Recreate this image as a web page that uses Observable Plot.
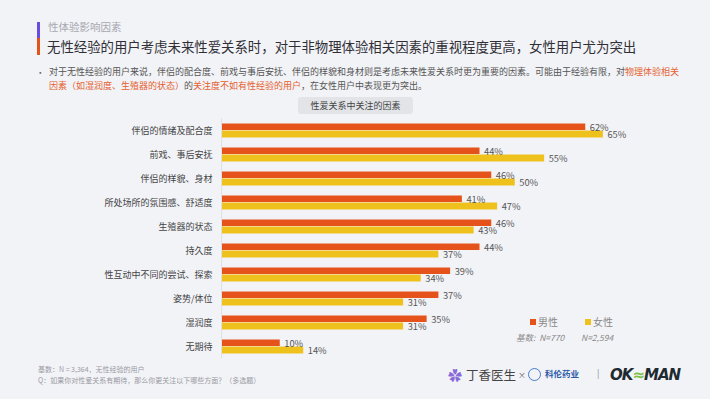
<!DOCTYPE html>
<html><head><meta charset="utf-8">
<script src="https://cdn.jsdelivr.net/npm/d3@7"></script>
<script src="https://cdn.jsdelivr.net/npm/@observablehq/plot@0.6"></script>
<style>
body{margin:0;background:#f2f3f7;}
#page{position:relative;width:710px;height:399px;overflow:hidden;background:#f2f3f7;font-family:"Noto Sans CJK SC","Noto Sans",sans-serif;}
.abs{position:absolute;white-space:nowrap;}
.or{color:#e5602f;}
</style></head>
<body><div id="page">
<div class="abs" style="left:37px;top:22px;width:3px;height:16px;background:#6a4ce0"></div>
<div class="abs" style="left:37px;top:38px;width:3px;height:17px;background:#e5531a"></div>
<div class="abs" style="left:48px;top:19px;font-size:10.5px;color:#a8a8b0;line-height:16px;">性体验影响因素</div>
<div class="abs" style="left:47px;top:37px;font-size:13.4px;color:#2f2f35;line-height:18px;letter-spacing:0px">无性经验的用户考虑未来性爱关系时，对于非物理体验相关因素的重视程度更高，女性用户尤为突出</div>
<div class="abs" style="left:36px;top:66px;font-size:8.6px;color:#666;line-height:12px;">•</div>
<div class="abs" style="left:49px;top:65px;font-size:9px;color:#555;line-height:13.5px;">对于无性经验的用户来说，伴侣的配合度、前戏与事后安抚、伴侣的样貌和身材则是考虑未来性爱关系时更为重要的因素。可能由于经验有限，对<span class="or">物理体验相关</span><br><span class="or">因素（如湿润度、生殖器的状态）</span>的<span class="or">关注度不如有性经验的用户</span>，在女性用户中表现更为突出。</div>
<div class="abs" style="left:298px;top:97px;width:115px;height:17px;background:#e3e4e8;border-radius:3px;font-size:9px;color:#444;line-height:17px;text-align:center;">性爱关系中关注的因素</div>
<div id="chart" class="abs" style="left:0;top:112px;"></div>
<div class="abs" style="left:530px;top:319px;width:6px;height:6px;background:#e5531a"></div>
<div class="abs" style="left:538px;top:314px;font-size:10px;color:#888;line-height:16px;">男性</div>
<div class="abs" style="left:585px;top:319px;width:6px;height:6px;background:#efc11d"></div>
<div class="abs" style="left:593px;top:314px;font-size:10px;color:#888;line-height:16px;">女性</div>
<div class="abs" style="left:516px;top:331px;font-size:8.5px;color:#888;font-style:italic;line-height:12px;">基数:&nbsp;&nbsp;N=770</div>
<div class="abs" style="left:581px;top:331px;font-size:8.5px;color:#888;font-style:italic;line-height:12px;">N=2,594</div>
<div class="abs" style="left:38px;top:364px;font-size:7px;color:#9a9aa2;line-height:11px;">基数：N = 3,364，无性经验的用户<br>Q：如果你对性爱关系有期待，那么你更关注以下哪些方面？（多选题）</div>
<div class="abs" style="left:448px;top:366px;font-size:14px;color:#8a6ad8;line-height:18px;">✿</div>
<div class="abs" style="left:466px;top:366px;font-size:12.5px;color:#444;line-height:18px;">丁香医生</div>
<div class="abs" style="left:518px;top:368px;font-size:8px;color:#666;line-height:14px;">×</div>
<div class="abs" style="left:528px;top:368px;width:13px;height:13px;border-radius:7px;border:1px solid #4a7cc8;box-sizing:border-box;"></div>
<div class="abs" style="left:545px;top:367px;font-size:8.5px;color:#2a5aa8;font-weight:bold;line-height:12px;">科伦药业</div>
<div class="abs" style="left:597px;top:367px;font-size:9px;color:#888;line-height:14px;">|</div>
<div class="abs" style="left:610px;top:365px;font-size:15px;color:#1e2a30;font-weight:900;font-style:italic;line-height:20px;font-family:'DejaVu Sans',sans-serif;letter-spacing:-1px;">OK<span style="color:#7cc043">≈</span>MAN</div>
</div>
<script>
const categories = ["伴侣的情绪及配合度","前戏、事后安抚","伴侣的样貌、身材","所处场所的氛围感、舒适度","生殖器的状态","持久度","性互动中不同的尝试、探索","姿势/体位","湿润度","无期待"];
const male = [62,44,46,41,46,44,39,37,35,10];
const female = [65,55,50,47,43,37,34,31,31,14];
const maleColor = "#e5531a";
const femaleColor = "#efc11d";

const maleData = categories.map((c,i)=>({cat:c, v:male[i]}));
const femaleData = categories.map((c,i)=>({cat:c, v:female[i]}));

const chart = Plot.plot({
  width: 710,
  height: 248,
  marginLeft: 221,
  marginRight: 19,
  marginTop: 6.5,
  marginBottom: 1.5,
  style: {background: "transparent", fontFamily: "'Noto Sans CJK SC', sans-serif", fontSize: "9px", color: "#444"},
  x: {domain: [0, 80], axis: null},
  y: {domain: categories, padding: 0, round: false, label: null, tickSize: 0, tickPadding: 9},
  marks: [
    Plot.axisY({tickSize: 0, tickPadding: 9, label: null, fontSize: 9, fill: "#444"}),
    Plot.barX(maleData, {x: "v", y: "cat", fill: maleColor, insetTop: 5, insetBottom: 12.5}),
    Plot.barX(femaleData, {x: "v", y: "cat", fill: femaleColor, insetTop: 12, insetBottom: 5}),
    Plot.text(maleData, {x: "v", y: "cat", text: d => d.v + "%", dx: 4, dy: -3.3, textAnchor: "start", fill: "#555", fontSize: 9.3}),
    Plot.text(femaleData, {x: "v", y: "cat", text: d => d.v + "%", dx: 4, dy: 4.5, textAnchor: "start", fill: "#555", fontSize: 9.3}),
    Plot.ruleX([0], {stroke: "#dfe0e6", strokeWidth: 1})
  ]
});
document.getElementById("chart").appendChild(chart);
</script>
</body></html>
